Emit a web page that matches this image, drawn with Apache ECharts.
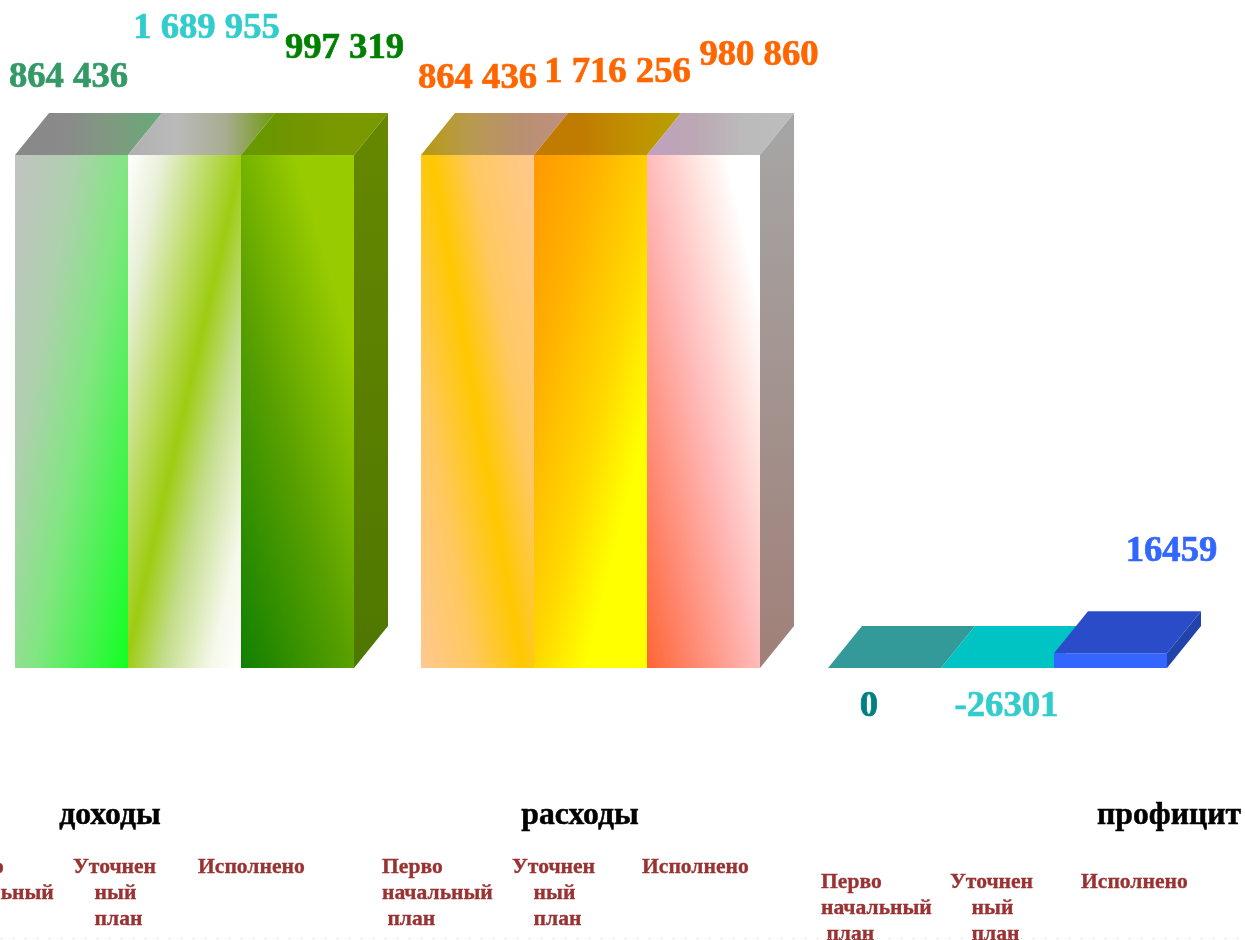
<!DOCTYPE html>
<html><head><meta charset="utf-8">
<style>html,body{margin:0;padding:0;background:#fff}#c{width:1245px;height:940px}</style>
<script src="https://cdn.jsdelivr.net/npm/echarts@6/dist/echarts.min.js"></script>
</head><body><div id="c"></div>
<script>
// ---- data ----
const groups = ['доходы', 'расходы', 'профицит'];
const planTypes = ['Перво\nначальный\n\u00a0план', 'Уточнен\n\u00a0\u00a0\u00a0\u00a0ный\n\u00a0\u00a0\u00a0\u00a0план', 'Исполнено'];
const revenue = [864436, 1689955, 997319];
const expenses = [864436, 1716256, 980860];
const surplus = [0, -26301, 16459];
const revenueLabels = ['864 436', '1 689 955', '997 319'];
const expenseLabels = ['864 436', '1 716 256', '980 860'];
const surplusLabels = ['0', '-26301', '16459'];
const axisMax = 570000;   // the source chart's axis stops here, taller bars are cut off at it

// ---- styles / layout ----
const FONT = '"Liberation Serif","Times New Roman",serif';
const DX = 34, DY = 42;
const GROUP_STEP = 3.598;
function h(...cols){ return {type:'linear',x:0,y:0,x2:1,y2:0,colorStops:cols.map((c,i)=>({offset:i/(cols.length-1),color:c}))}; }
function v(a,b){ return {type:'linear',x:0,y:0,x2:0,y2:1,colorStops:[{offset:0,color:a},{offset:1,color:b}]}; }
// a slanted gradient: colour depends on t = x + k*y (px inside the front face)
function slant(k, stops, w, hgt){
  const t0 = Math.min(0, k*hgt), t1 = w + Math.max(0, k*hgt);
  const s = (t1-t0)/(1+k*k), y0 = k<0 ? 1 : 0;
  return {type:'linear', x:0, y:y0, x2:s/w, y2:y0+s*k/hgt,
    colorStops:stops.map(p=>({offset:Math.min(1,Math.max(0,(p[0]-t0)/(t1-t0))),color:p[1]}))};
}
const frontStyles = [
  {k:.185, s:[[0,'#c2c2c2'],[60,'#aed0ae'],[115,'#80e680'],[208,'#11ff22']]},
  {k:.23,  s:[[0,'#ffffff'],[35,'#e8f0d8'],[115,'#9dcc11'],[150,'#c2dc88'],[200,'#f5f8ea'],[231,'#ffffff']]},
  {k:-.3,  s:[[-154,'#108000'],[-41,'#5aa000'],[55,'#99cc00'],[113,'#99cc00']]},
  {k:-.18, s:[[-92,'#ffc890'],[-40,'#ffc860'],[10,'#ffc800'],[50,'#ffc860'],[113,'#ffc890']]},
  {k:.25,  s:[[0,'#ff9900'],[60,'#ffb000'],[125,'#ffd500'],[180,'#ffff00'],[241,'#ffff00']]},
  {k:-.22, s:[[-113,'#ff6633'],[-65,'#ff8870'],[0,'#ffbbbb'],[48,'#ffe5e0'],[80,'#ffffff'],[113,'#ffffff']]},
  {k:0, s:[[0,'#339999'],[113,'#339999']]},
  {k:0, s:[[0,'#00c4c4'],[113,'#00c4c4']]},
  {k:0, s:[[0,'#3366ff'],[113,'#3366ff']]}
];
const topStyles = [
  h('#888888','#8a8a8a','#7f9a80','#66aa77'),
  h('#b0b0b0','#bababa','#a8ac90','#6f9a10'),
  h('#669900','#6f9500','#7a9900','#7a9900'),
  h('#b89a10','#b89a50','#b89070','#c09080'),
  h('#c07a00','#c07c00','#c09000','#b8a000'),
  h('#c0a0c0','#bca8b4','#bbbbbb','#bdbdbd'),
  h('#339999','#339999'),
  h('#00c4c4','#00c4c4'),
  h('#2a4cc8','#2a4cc8')
];
const sideStyles = {2:v('#668800','#4f7700'), 5:v('#a6a6a6','#a08078'), 8:v('#2244aa','#2244aa')};
const labelColors = ['#339966','#33cccc','#008000','#ff6600','#ff6600','#ff6600','#008080','#33cccc','#3366ff'];
const labelAt = [[68.5,78],[206.5,29],[344.5,49],[477.5,79],[617.5,72.5],[759,55.5],[869,706.5],[1006.5,706.5],[1171.5,551.5]];
const titleAt = [[110,816],[580,816],[1169,816]];
const planAt = [[[-57,866],[73,866],[198,866]],[[382,866],[512,866],[642,866]],[[821,881],[950,881],[1081,881]]];

const values = revenue.concat(expenses, surplus);
const labels = revenueLabels.concat(expenseLabels, surplusLabels);
const rows = values.map((val,i)=>[Math.floor(i/3)*GROUP_STEP + i%3, val, i]);

function renderBar(params, api){
  const pos = api.value(0), i = api.value(2);
  const val = Math.max(0, Math.min(axisMax, api.value(1)));
  const a = api.coord([pos, val]), b = api.coord([pos+1, 0]);
  const x0=Math.round(a[0]), x1=Math.round(b[0]), yT=a[1], yB=b[1], w=x1-x0, hgt=yB-yT;
  const kids = [];
  if (hgt>0.5){
    const f = frontStyles[i];
    kids.push({type:'rect', shape:{x:x0,y:yT,width:w,height:hgt}, style:{fill:slant(f.k,f.s,w,hgt)}});
  }
  kids.push({type:'polygon', shape:{points:[[x0,yT],[x0+DX,yT-DY],[x1+DX,yT-DY],[x1,yT]]}, style:{fill:topStyles[i]}});
  if (sideStyles[i]){
    kids.push({type:'polygon', shape:{points:[[x1,yT],[x1+DX,yT-DY],[x1+DX,yB-DY],[x1,yB]]}, style:{fill:sideStyles[i]}});
  }
  return {type:'group', children:kids};
}
const texts = [];
labels.forEach((t,i)=>texts.push({type:'text', x:labelAt[i][0], y:labelAt[i][1], silent:true,
  style:{text:t, fill:labelColors[i], stroke:labelColors[i], lineWidth:.7, font:'bold 36.7px '+FONT, align:'center', verticalAlign:'middle'}}));
groups.forEach((t,g)=>{
  texts.push({type:'text', x:titleAt[g][0], y:titleAt[g][1], silent:true,
    style:{text:t, fill:'#000', stroke:'#000', lineWidth:.5, font:'bold 31.7px '+FONT, align:'center', verticalAlign:'middle'}});
  planTypes.forEach((p,j)=>texts.push({type:'text', x:planAt[g][j][0], y:planAt[g][j][1]-12, silent:true,
    style:{text:p, fill:'#993333', stroke:'#993333', lineWidth:.35, font:'bold 21.6px '+FONT, lineHeight:26, align:'left', verticalAlign:'top'}}));
});
const chart = echarts.init(document.getElementById('c'), null, {renderer:'canvas'});
chart.setOption({
  animation:false,
  backgroundColor:'#fff',
  grid:{left:15, top:155, width:1152, height:513},
  xAxis:{type:'value', min:0, max:10.2, show:false},
  yAxis:{type:'value', min:0, max:axisMax, show:false},
  series:[{type:'custom', renderItem:renderBar, data:rows, clip:false, silent:true}],
  graphic:{elements:texts.concat([{type:'line', silent:true, shape:{x1:1,y1:938.5,x2:1245,y2:938.5},
    style:{stroke:'#d0d0d0', lineWidth:1, lineDash:[1,11]}}])}
});
</script></body></html>
